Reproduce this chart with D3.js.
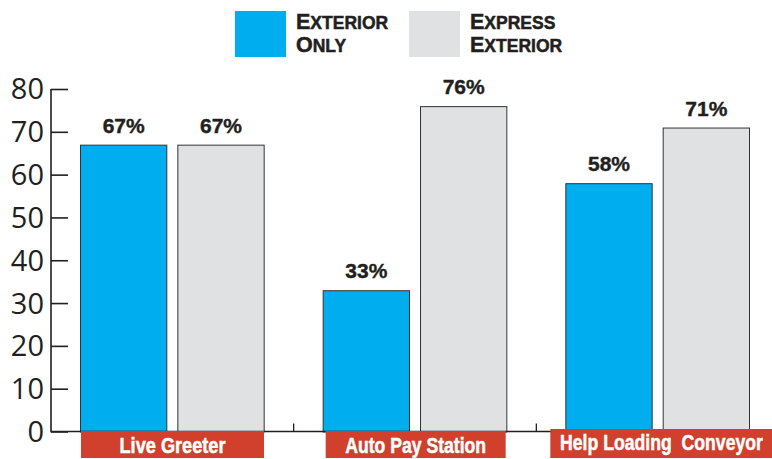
<!DOCTYPE html>
<html><head><meta charset="utf-8">
<script src="https://cdn.jsdelivr.net/npm/d3@7"></script>
<style>html,body{margin:0;padding:0;background:#fff;overflow:hidden}</style>
</head><body>
<svg id="chart" width="772" height="459"></svg>
<script>
const categories = ["Live Greeter", "Auto Pay Station", "Help Loading  Conveyor"];
const seriesNames = ["Exterior Only", "Express Exterior"];
const exteriorOnly = [67, 33, 58];
const expressExterior = [67, 76, 71];
const yTicks = [0, 10, 20, 30, 40, 50, 60, 70, 80];
const legendLines = [[["E","XTERIOR"],["O","NLY"]], [["E","XPRESS"],["E","XTERIOR"]]];

const colors = ["#00AEEF", "#E0E1E3"];
const ink = "#231F20";
const svg = d3.select("#chart");

const x0 = d3.scaleBand().domain(categories).range([51, 779]).padding(0);
const x1 = d3.scaleBand().domain(seriesNames).range([29, x0.bandwidth() - 29]).paddingInner(10/97).paddingOuter(0);
const y = d3.scaleLinear().domain([0, 80]).range([431.5, 89]);

const values = categories.map((c, i) => [exteriorOnly[i], expressExterior[i]]);

// bars
const g = svg.append("g");
categories.forEach((c, i) => {
  seriesNames.forEach((s, j) => {
    const v = values[i][j];
    const bx = x0(c) + x1(s);
    g.append("rect")
      .attr("x", bx + 0.5).attr("y", y(v) + 0.5)
      .attr("width", x1.bandwidth() - 1).attr("height", y(0) - y(v))
      .attr("fill", colors[j]).attr("stroke", "#333").attr("stroke-width", 1);
    g.append("text")
      .attr("x", bx + x1.bandwidth() / 2).attr("y", y(v) - 12)
      .attr("text-anchor", "middle")
      .attr("font-family", "'Liberation Sans', Arial, sans-serif")
      .attr("font-weight", "bold").attr("font-size", 21).attr("fill", ink)
      .attr("stroke", ink).attr("stroke-width", 0.4)
      .text(v + "%");
  });
});

// y axis
const yAxis = d3.axisRight(y).tickValues(yTicks).tickSize(17).tickFormat("");
const ya = svg.append("g").attr("transform", "translate(51,0)").call(yAxis);
ya.select(".domain").remove();
ya.selectAll("line").attr("stroke", ink).attr("stroke-width", 1.6);
svg.append("line").attr("x1", 51).attr("x2", 51).attr("y1", y(80)).attr("y2", y(0) + 0.8)
  .attr("stroke", ink).attr("stroke-width", 1.6);
svg.append("g").selectAll("text").data(yTicks).join("text")
  .attr("x", 44).attr("y", d => y(d)).attr("dy", "0.36em")
  .attr("text-anchor", "end")
  .attr("font-family", "'Open Sans', 'Noto Sans', sans-serif")
  .attr("font-size", 29).attr("fill", ink)
  .text(d => d);

// x axis line and boundary ticks
svg.append("line").attr("x1", 51).attr("x2", 779).attr("y1", y(0)).attr("y2", y(0))
  .attr("stroke", ink).attr("stroke-width", 1.6);
svg.append("g").selectAll("line").data(categories.slice(1)).join("line")
  .attr("x1", d => x0(d)).attr("x2", d => x0(d))
  .attr("y1", y(0)).attr("y2", y(0) - 8)
  .attr("stroke", ink).attr("stroke-width", 1.3);

// category label boxes
const boxLayout = [
  {dx0: 30, dx1: 213, top: 431, bottom: 458},
  {dx0: 32, dx1: 212, top: 431, bottom: 458},
  {dx0: 14, dx1: 250, top: 429, bottom: 458}
];
const textWidths = [106, 141, 203];
categories.forEach((c, i) => {
  const b = boxLayout[i];
  const bx0 = x0(c) + b.dx0, bx1 = x0(c) + b.dx1;
  svg.append("rect").attr("x", bx0).attr("y", b.top)
    .attr("width", bx1 - bx0).attr("height", b.bottom - b.top)
    .attr("fill", "#D0402C");
  const cx = i === 2 ? 560 + textWidths[i] / 2 : (bx0 + bx1) / 2;
  const t = svg.append("text")
    .attr("x", 0).attr("y", 0)
    .attr("text-anchor", "middle")
    .attr("font-family", "'Liberation Sans Narrow', 'Liberation Sans', Arial, sans-serif")
    .attr("font-weight", "bold").attr("font-size", 21.5).attr("fill", "#fff")
    .attr("stroke", "#fff").attr("stroke-width", 0.5)
    .style("white-space", "pre")
    .text(c);
  const w = t.node().getComputedTextLength();
  t.attr("transform", `translate(${cx},${i === 2 ? 450 : 453}) scale(${textWidths[i] / w},1)`);
});

// legend
const legendX = [235, 409];
seriesNames.forEach((s, j) => {
  svg.append("rect").attr("x", legendX[j]).attr("y", 11).attr("width", 51).attr("height", 46)
    .attr("fill", colors[j]);
  legendLines[j].forEach((ln, k) => {
    const t = svg.append("text")
      .attr("x", legendX[j] + 61).attr("y", 28.5 + k * 23.5)
      .attr("font-family", "'Liberation Sans', Arial, sans-serif")
      .attr("font-weight", "bold").attr("fill", ink)
      .attr("stroke", ink).attr("stroke-width", 0.5);
    t.append("tspan").attr("font-size", 21.5).text(ln[0]);
    t.append("tspan").attr("font-size", 17.5).text(ln[1]);
  });
});
</script>
</body></html>
